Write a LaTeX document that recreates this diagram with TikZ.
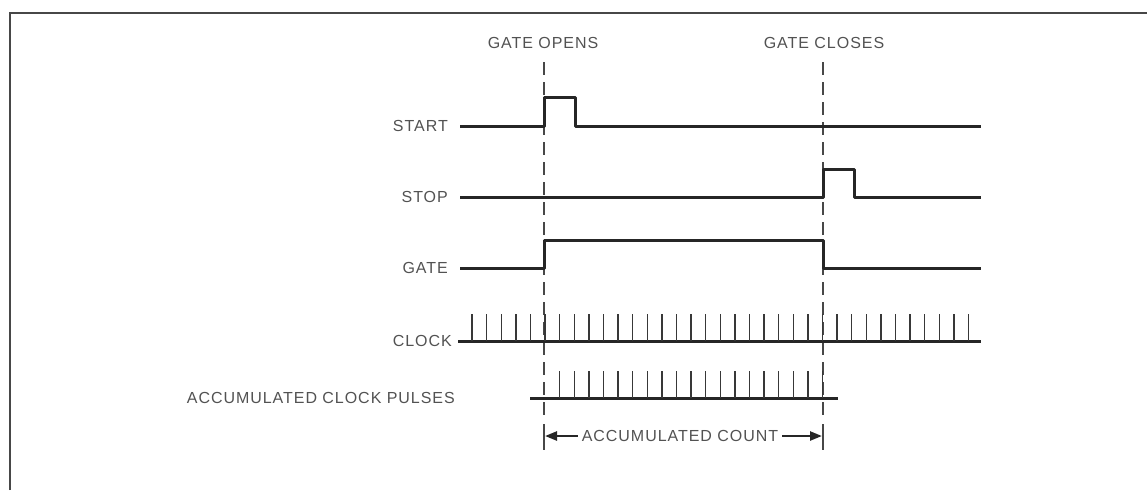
\documentclass[tikz,border=0pt]{standalone}
\usepackage{fontspec}
\setmainfont{Liberation Sans}
\newfontfamily\labfont[LetterSpace=6]{Liberation Sans}
\usetikzlibrary{arrows.meta}
\begin{document}
\begin{tikzpicture}[x=1pt,y=-1pt,
  lab/.style={text=black!68, font=\labfont\fontsize{16}{18}\selectfont, inner sep=0pt},
  sig/.style={draw=black!85, line width=3pt, line join=round},
  tk/.style={draw=black!78, line width=1.4pt},
  guide/.style={draw=black!72, line width=1.2pt, dash pattern=on 13pt off 7pt},
  endbar/.style={draw=black!72, line width=1.2pt},
  frame/.style={draw=black!72, line width=2.2pt},
  cnt/.style={draw=black!85, line width=2.4pt, -{Triangle[length=12pt,width=9pt]}}]
\useasboundingbox (0,0) rectangle (1147,490);
\draw[frame] (10,490) -- (10,13) -- (1147,13);

% headings
\node[lab] (go) at (543,43) {GATE OPENS};
\node[lab] (gc) at (824,43) {GATE CLOSES};

% guides
\coordinate (oTop) at (544,62); \coordinate (oBot) at (544,420);
\coordinate (cTop) at (823,62); \coordinate (cBot) at (823,420);
\draw[guide] (oTop) -- (oBot);
\draw[guide] (cTop) -- (cBot);

% START
\node[lab, anchor=east] (start) at (448,126) {START};
\draw[sig] (460,126) -- (544,126) -- (544,97) -- (575,97) -- (575,126) -- (981,126);

% STOP
\node[lab, anchor=east] (stop) at (448,197) {STOP};
\draw[sig] (460,197) -- (823,197) -- (823,169) -- (854,169) -- (854,197) -- (981,197);

% GATE
\node[lab, anchor=east] (gate) at (448,268) {GATE};
\draw[sig] (460,268) -- (544,268) -- (544,240) -- (823,240) -- (823,268) -- (981,268);

% CLOCK
\node[lab, anchor=east] (clock) at (452,341) {CLOCK};
\draw[sig] (458,341) -- (981,341);
\foreach \i in {0,...,34} \draw[tk] ({472+\i*14.6},341) -- ++(0,-27);

% ACCUMULATED CLOCK PULSES
\node[lab, anchor=east] (acc) at (455,398) {ACCUMULATED CLOCK PULSES};
\draw[sig] (530,398) -- (838,398);
\foreach \i in {6,...,24} \draw[tk] ({472+\i*14.6},398) -- ++(0,-27);

% ACCUMULATED COUNT
\coordinate (lb1) at (544,424); \coordinate (lb2) at (544,450);
\coordinate (rb1) at (823,424); \coordinate (rb2) at (823,450);
\draw[endbar] (lb1) -- (lb2);
\draw[endbar] (rb1) -- (rb2);
\node[lab] (count) at (680,436) {ACCUMULATED COUNT};
\draw[cnt] ([xshift=-4pt]count.west) -- (545,436);
\draw[cnt] ([xshift=4pt]count.east) -- (822,436);
\end{tikzpicture}
\end{document}
